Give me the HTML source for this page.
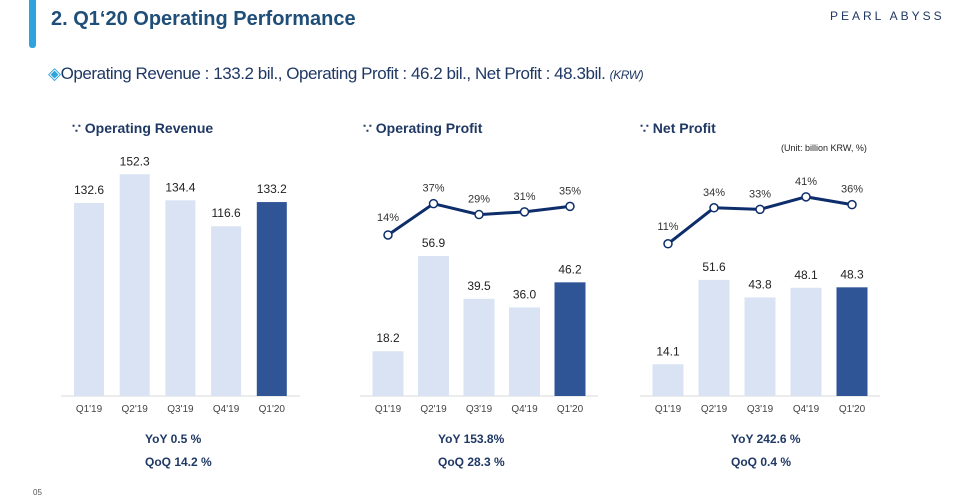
<!DOCTYPE html>
<html><head><meta charset="utf-8"><style>
body{margin:0;width:959px;height:504px;background:#fff;font-family:"Liberation Sans",sans-serif;overflow:hidden;position:relative}
.t{position:absolute;white-space:nowrap}
</style></head><body>
<div style="position:absolute;left:29px;top:0;width:7px;height:48px;background:#2ea3dc;border-radius:0 0 3px 3px"></div>
<div class="t" style="left:51px;top:8px;font-size:20px;font-weight:bold;color:#1f4e79">2. Q1‘20 Operating Performance</div>
<div class="t" style="left:830px;top:9px;font-size:12px;letter-spacing:3px;color:#1f3864">PEARL ABYSS</div>
<div class="t" style="left:48px;top:64px;font-size:17px;color:#1f3864;letter-spacing:-0.45px"><span style="color:#2ea3dc">◈</span>Operating Revenue : 133.2 bil., Operating Profit : 46.2 bil., Net Profit : 48.3bil. <i style="font-size:12px">(KRW)</i></div>
<div class="t" style="left:781px;top:143px;font-size:9px;color:#222">(Unit: billion KRW, %)</div>
<div class="t" style="left:33px;top:488px;font-size:8px;color:#555">05</div>
<svg id="c" width="959" height="504" style="position:absolute;left:0;top:0"></svg>
<script>
const categories=["Q1'19","Q2'19","Q3'19","Q4'19","Q1'20"];
const revenueValues=[132.6,152.3,134.4,116.6,133.2];
const profitValues=[18.2,56.9,39.5,36.0,46.2];
const profitMargins=[14,37,29,31,35];
const netValues=[14.1,51.6,43.8,48.1,48.3];
const netMargins=[11,34,33,41,36];
const NS="http://www.w3.org/2000/svg",svg=document.getElementById('c');
function el(t,a,txt){const e=document.createElementNS(NS,t);for(const k in a)e.setAttribute(k,a[k]);if(txt!=null)e.textContent=txt;svg.appendChild(e);return e;}
function chart(o){
  const x=i=>o.x0+i*o.dx, y=v=>396-v*o.k;
  el('text',{x:o.tx,y:133,'font-size':14,'font-weight':'bold',fill:'#1f3864'},'∵ '+o.title);
  el('line',{x1:o.x0-28,x2:x(4)+28,y1:396,y2:396,stroke:'#d9d9d9'});
  o.vals.forEach((v,i)=>{
    const r=el('rect',{x:x(i)-o.w/2,y:y(v),width:o.w,height:v*o.k,fill:i==4?'#2f5597':'#dae3f3'});
    
    el('text',{x:x(i),y:y(v)-9,'text-anchor':'middle','font-size':12,fill:'#222'},v.toFixed(1));
    el('text',{x:x(i),y:412,'text-anchor':'middle','font-size':10,fill:'#444'},categories[i]);
  });
  if(o.m){
    const py=p=>o.b-p*o.mk;
    const pl=el('polyline',{points:o.m.map((p,i)=>x(i)+','+py(p)).join(' '),fill:'none',stroke:'#0d2d6b','stroke-width':3});
    
    o.m.forEach((p,i)=>{
      const c=el('circle',{cx:x(i),cy:py(p),r:4,fill:'#fff',stroke:'#0d2d6b','stroke-width':1.5});
      
      el('text',{x:x(i),y:py(p)-(i==0?14:12),'text-anchor':'middle','font-size':11,fill:'#333'},p+'%');
    });
  }
  el('text',{x:o.yx,y:443,'font-size':12,'font-weight':'bold',fill:'#1f3864'},o.yoy);
  el('text',{x:o.yx,y:466,'font-size':12,'font-weight':'bold',fill:'#1f3864'},o.qoq);
}
chart({name:'revenue',title:'Operating Revenue',tx:72,x0:89,dx:45.7,w:30,k:1.456,vals:revenueValues,yoy:'YoY    0.5 %',qoq:'QoQ  14.2 %',yx:145});
chart({name:'op-profit',title:'Operating Profit',tx:363,x0:388,dx:45.5,w:31,k:2.46,vals:profitValues,m:profitMargins,b:254,mk:1.36,yoy:'YoY  153.8%',qoq:'QoQ  28.3 %',yx:438});
chart({name:'net-profit',title:'Net Profit',tx:640,x0:668,dx:46,w:31,k:2.25,vals:netValues,m:netMargins,b:261,mk:1.565,yoy:'YoY  242.6 %',qoq:'QoQ    0.4 %',yx:731});
</script>
</body></html>
